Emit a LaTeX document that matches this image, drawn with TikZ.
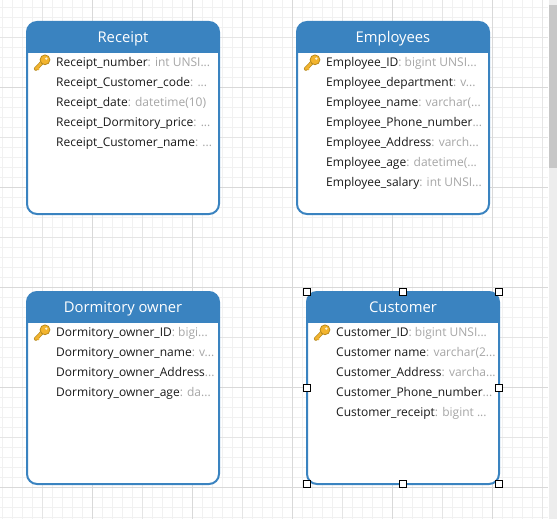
\documentclass[tikz,border=0pt]{standalone}
\usepackage{fontspec}
\setmainfont{Open Sans}
\definecolor{hdr}{HTML}{3A83C0}
\definecolor{typ}{HTML}{A6A6A6}
\definecolor{gmin}{HTML}{F1F1F1}
\definecolor{gmed}{HTML}{E5E5E5}
\definecolor{gmaj}{HTML}{D9D9D9}
\definecolor{keyf}{HTML}{F2B42E}
\definecolor{keyd}{HTML}{B98A1E}
\tikzset{
  x=1pt,y=-1pt,
  gridmin/.style={draw=gmin,line width=1pt},
  gridmed/.style={draw=gmed,line width=1pt},
  gridmaj/.style={draw=gmaj,line width=1pt},
  entity/.style={draw=hdr,line width=2pt,fill=white,rounded corners=10pt,minimum width=192pt,minimum height=192pt,inner sep=0pt,outer sep=0pt,anchor=north west},
  title/.style={text=white,font=\fontsize{14.8}{16}\selectfont,anchor=base,inner sep=0pt},
  field/.style={text=black!90,font=\fontsize{12}{14}\selectfont,anchor=base west,inner sep=0pt},
  handle/.style={draw=black,line width=1pt,fill=white,minimum size=7pt,inner sep=0pt,rectangle},
  pics/goldkey/.style={code={
    \draw[keyd,line width=4pt,line cap=round] (-5.6,6.8) -- (2,-1);
    \draw[keyf,line width=2.6pt,line cap=round] (-5.6,6.8) -- (2,-1);
    \draw[keyf,line width=1.8pt] (-4.6,5.6) -- (-2.4,7.6);
    \draw[keyd,fill=keyf,line width=.8pt] (3.5,-2.2) circle (4.9pt);
    \fill[white!80!keyf] (4.8,-3.4) circle (1.3pt);
  }}
}
\newcommand{\typ}[1]{\textcolor{typ}{#1}}
\newcommand{\entitybox}[4]{% name, x, y, title
  \node[entity] (#1) at (#2,#3) {};
  \begin{scope}
    \clip[rounded corners=10pt] (#1.north west) rectangle (#1.south east);
    \fill[hdr] (#1.north west) rectangle ([yshift=-31pt]#1.north east);
  \end{scope}
  \node[title] (#1-title) at ([yshift=-20.5pt]#1.north) {#4};
  \path ([xshift=14.5pt,yshift=-40pt]#1.north west) pic {goldkey};
}
\newcommand{\rowtext}[5]{% box, index, row, name, type
  \node[field] (#1-#2) at ([xshift=#3,yshift=#2*-20-44.5]#1.north west) {#4#5};
}
\begin{document}
\begin{tikzpicture}
\useasboundingbox[fill=white] (0,0) rectangle (557,519);
% grid
\foreach \i in {0,...,54} \draw[gridmin] ({2.5+10*\i},0) -- ({2.5+10*\i},519);
\foreach \i in {0,...,51} \draw[gridmin] (0,{7.5+10*\i}) -- (548,{7.5+10*\i});
\foreach \i in {0,...,5} \draw[gridmed] ({42.5+100*\i},0) -- ({42.5+100*\i},519);
\foreach \i in {0,...,4} \draw[gridmed] (0,{37.5+100*\i}) -- (548,{37.5+100*\i});
\foreach \i in {0,...,4} \draw[gridmaj] ({92.5+100*\i},0) -- ({92.5+100*\i},519);
\foreach \i in {0,...,4} \draw[gridmaj] (0,{87.5+100*\i}) -- (548,{87.5+100*\i});
% scrollbar
\fill[white] (548,0) rectangle (557,519);
\fill[black!7] (549,0) rectangle (557,519);
\fill[black!22] (549,5) rectangle (557,168);
% entities
\entitybox{receipt}{27}{22}{Receipt}
\rowtext{receipt}{0}{29pt}{Receipt\_number}{\typ{: int UNSI...}}
\rowtext{receipt}{1}{29pt}{Receipt\_Customer\_code}{\typ{: ...}}
\rowtext{receipt}{2}{29pt}{Receipt\_date}{\typ{: datetime(10)}}
\rowtext{receipt}{3}{29pt}{Receipt\_Dormitory\_price}{\typ{: ...}}
\rowtext{receipt}{4}{29pt}{Receipt\_Customer\_name}{\typ{: ...}}
\entitybox{employees}{297}{22}{Employees}
\rowtext{employees}{0}{29pt}{Employee\_ID}{\typ{: bigint UNSI...}}
\rowtext{employees}{1}{29pt}{Employee\_department}{\typ{: v...}}
\rowtext{employees}{2}{29pt}{Employee\_name}{\typ{: varchar(...}}
\rowtext{employees}{3}{29pt}{Employee\_Phone\_number}{\typ{...}}
\rowtext{employees}{4}{29pt}{Employee\_Address}{\typ{: varch...}}
\rowtext{employees}{5}{29pt}{Employee\_age}{\typ{: datetime(...}}
\rowtext{employees}{6}{29pt}{Employee\_salary}{\typ{: int UNSI...}}
\entitybox{owner}{27}{292}{Dormitory owner}
\rowtext{owner}{0}{29pt}{Dormitory\_owner\_ID}{\typ{: bigi...}}
\rowtext{owner}{1}{29pt}{Dormitory\_owner\_name}{\typ{: v...}}
\rowtext{owner}{2}{29pt}{Dormitory\_owner\_Address}{\typ{...}}
\rowtext{owner}{3}{29pt}{Dormitory\_owner\_age}{\typ{: da...}}
\entitybox{customer}{307}{292}{Customer}
\rowtext{customer}{0}{29pt}{Customer\_ID}{\typ{: bigint UNSI...}}
\rowtext{customer}{1}{29pt}{Customer name}{\typ{: varchar(2...}}
\rowtext{customer}{2}{29pt}{Customer\_Address}{\typ{: varcha...}}
\rowtext{customer}{3}{29pt}{Customer\_Phone\_number}{\typ{...}}
\rowtext{customer}{4}{29pt}{Customer\_receipt}{\typ{: bigint ...}}
% selection handles
\foreach \a/\n in {north west/nw,north/n,north east/ne,west/w,east/e,south west/sw,south/s,south east/se}
  \node[handle] (h-\n) at (customer.\a) {};
\end{tikzpicture}
\end{document}
